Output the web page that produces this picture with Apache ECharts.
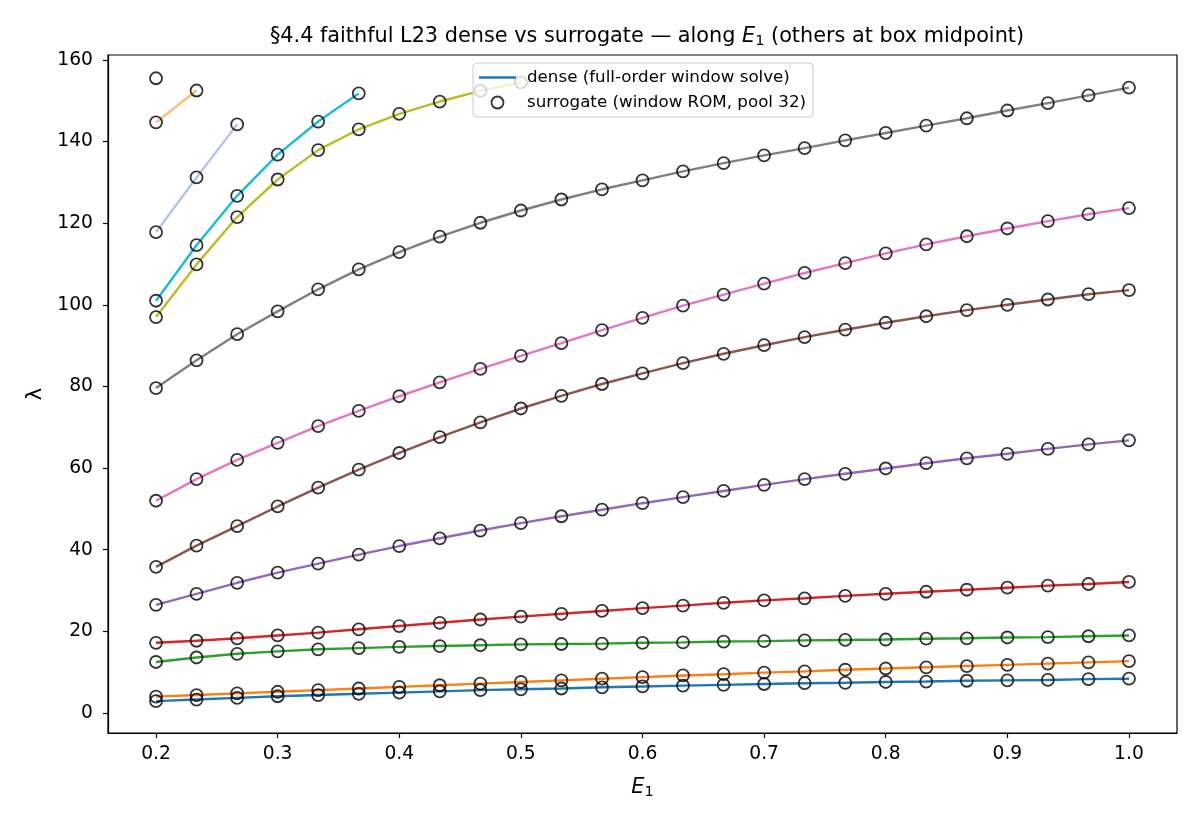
<!DOCTYPE html>
<html>
<head>
<meta charset="utf-8">
<script src="https://cdn.jsdelivr.net/npm/echarts@6/dist/echarts.min.js"></script>
<style>
  html, body { margin: 0; padding: 0; background: #fff; }
  #chart { width: 1200px; height: 825px; }
</style>
</head>
<body>
<div id="chart"></div>
<script>
// E1 sample points (25 points, step 1/30)
var e1 = [0.2, 0.2333, 0.2667, 0.3, 0.3333, 0.3667, 0.4, 0.4333, 0.4667, 0.5,
          0.5333, 0.5667, 0.6, 0.6333, 0.6667, 0.7, 0.7333, 0.7667, 0.8, 0.8333,
          0.8667, 0.9, 0.9333, 0.9667, 1.0];

// eigenvalue branches (dense solve)
var mode1  = [2.9, 3.3, 3.7, 4.1, 4.4, 4.7, 5.0, 5.3, 5.6, 5.8, 6.0, 6.3, 6.5, 6.7, 6.9, 7.1, 7.3, 7.4, 7.6, 7.7, 7.9, 8.0, 8.1, 8.3, 8.4];
var mode2  = [4.0, 4.4, 4.8, 5.2, 5.6, 6.0, 6.4, 6.8, 7.2, 7.6, 8.0, 8.4, 8.8, 9.2, 9.5, 9.9, 10.2, 10.6, 10.9, 11.2, 11.5, 11.8, 12.1, 12.4, 12.7];
var mode3  = [12.5, 13.6, 14.5, 15.1, 15.6, 15.9, 16.2, 16.4, 16.6, 16.8, 16.9, 17.0, 17.2, 17.3, 17.5, 17.6, 17.8, 17.9, 18.0, 18.2, 18.3, 18.5, 18.6, 18.8, 19.0];
var mode4  = [17.2, 17.7, 18.3, 19.0, 19.7, 20.5, 21.3, 22.1, 22.9, 23.6, 24.3, 25.0, 25.7, 26.3, 27.0, 27.6, 28.1, 28.7, 29.2, 29.7, 30.2, 30.7, 31.2, 31.6, 32.1];
var mode5  = [26.5, 29.2, 31.9, 34.4, 36.6, 38.8, 40.9, 42.8, 44.7, 46.5, 48.2, 49.8, 51.4, 52.9, 54.4, 55.9, 57.3, 58.6, 59.9, 61.2, 62.4, 63.5, 64.7, 65.8, 66.8];
var mode6  = [35.8, 41.0, 45.8, 50.6, 55.2, 59.6, 63.7, 67.6, 71.2, 74.6, 77.7, 80.6, 83.2, 85.7, 88.0, 90.1, 92.1, 93.9, 95.6, 97.2, 98.7, 100.0, 101.3, 102.6, 103.6];
var mode7  = [52.0, 57.3, 62.0, 66.2, 70.3, 74.0, 77.6, 81.0, 84.3, 87.5, 90.6, 93.8, 96.8, 99.8, 102.5, 105.2, 107.8, 110.2, 112.6, 114.8, 116.8, 118.7, 120.5, 122.2, 123.7];
var mode8  = [79.6, 86.4, 92.8, 98.4, 103.8, 108.7, 112.9, 116.7, 120.1, 123.1, 125.8, 128.3, 130.5, 132.7, 134.7, 136.6, 138.4, 140.3, 142.1, 143.9, 145.7, 147.6, 149.4, 151.3, 153.2];
var mode9  = [97.0, 109.9, 121.5, 130.7, 137.9, 143.0, 146.8, 149.8, 152.4, 154.5];
var mode10 = [101.0, 114.6, 126.7, 136.8, 144.9, 151.8];
var mode11 = [117.8, 131.2, 144.2];
var mode12 = [144.7, 152.5];
var mode13 = [155.5];

var modes  = [mode1, mode2, mode3, mode4, mode5, mode6, mode7, mode8, mode9, mode10, mode11, mode12, mode13];
var colors = ['#1f77b4', '#ff7f0e', '#2ca02c', '#d62728', '#9467bd', '#8c564b', '#e377c2',
              '#7f7f7f', '#bcbd22', '#17becf', '#aec7e8', '#ffbb78', '#98df8a'];

var yTicks = [0, 20, 40, 60, 80, 100, 120, 140, 160];
var xTicks = [0.2, 0.3, 0.4, 0.5, 0.6, 0.7, 0.8, 0.9, 1.0];

var denseName = 'dense (full-order window solve)';
var surrName = 'surrogate (window ROM, pool 32)';

var series = [];
var surrPts = [];
modes.forEach(function (m, k) {
    var pts = m.map(function (v, i) { return [e1[i], v]; });
    series.push({
        name: denseName,
        type: 'line',
        data: pts,
        symbol: 'none',
        color: colors[k],
        lineStyle: { width: 2.4, color: colors[k] },
        z: 2
    });
    surrPts = surrPts.concat(pts);
});
series.push({
    name: surrName,
    type: 'scatter',
    data: surrPts,
    symbol: 'circle',
    symbolSize: 12,
    itemStyle: { color: 'rgba(0,0,0,0)', borderColor: '#000', borderWidth: 1.8 },
    z: 3
});

var chart = echarts.init(document.getElementById('chart'));
var font = 'DejaVu Sans';
var subRich = {
    i: { fontFamily: font, fontSize: 20.8, fontStyle: 'italic', color: '#000' },
    s: { fontFamily: font, fontSize: 14.5, color: '#000', padding: [9, 0, 0, 0] }
};
chart.setOption({
    animation: false,
    title: {
        text: '§4.4 faithful L23 dense vs surrogate — along {i|E}{s|1} (others at box midpoint)',
        left: 642, top: 20, textAlign: 'center',
        textStyle: {
            fontFamily: font, fontSize: 20.8, fontWeight: 'normal', color: '#000',
            rich: subRich
        }
    },
    legend: {
        orient: 'vertical',
        left: 473, top: 63,
        padding: [6, 7, 6, 6],
        itemGap: 8,
        itemWidth: 37, itemHeight: 12,
        backgroundColor: 'rgba(255,255,255,0.8)',
        borderColor: '#cccccc', borderWidth: 1, borderRadius: 4,
        textStyle: { fontFamily: font, fontSize: 16.7, color: '#000', padding: [0, 0, 0, 6] },
        z: 10,
        data: [
            { name: denseName, icon: 'path://M0,0 L37,0 L37,2.6 L0,2.6 Z', itemStyle: { color: '#1f77b4' } },
            { name: surrName, icon: 'circle',
              itemStyle: { color: 'rgba(0,0,0,0)', borderColor: '#000', borderWidth: 1.8 } }
        ]
    },
    grid: {
        left: 108, right: 23, top: 55, bottom: 92,
        show: true, borderColor: '#000', borderWidth: 1.2, backgroundColor: 'transparent'
    },
    xAxis: {
        type: 'value',
        min: 0.1605, max: 1.0395,
        name: '{i|E}{s|1}',
        nameLocation: 'middle', nameGap: 43,
        nameTextStyle: { rich: subRich },
        axisLine: { show: true, onZero: false, lineStyle: { color: '#000', width: 1.2 } },
        axisTick: { show: true, length: 5, lineStyle: { color: '#000', width: 1.2 }, customValues: xTicks },
        axisLabel: {
            fontFamily: font, fontSize: 18.7, color: '#000', margin: 12,
            customValues: xTicks,
            formatter: function (v) { return v.toFixed(1); }
        },
        splitLine: { show: false }
    },
    yAxis: {
        type: 'value',
        min: -4.9, max: 161.2,
        name: 'λ',
        nameLocation: 'middle', nameGap: 62,
        nameTextStyle: { fontFamily: font, fontSize: 20.8, color: '#000' },
        axisLine: { show: true, onZero: false, lineStyle: { color: '#000', width: 1.2 } },
        axisTick: { show: true, length: 5, lineStyle: { color: '#000', width: 1.2 }, customValues: yTicks },
        axisLabel: {
            fontFamily: font, fontSize: 18.7, color: '#000', margin: 15,
            customValues: yTicks
        },
        splitLine: { show: false }
    },
    series: series
});
</script>
</body>
</html>
